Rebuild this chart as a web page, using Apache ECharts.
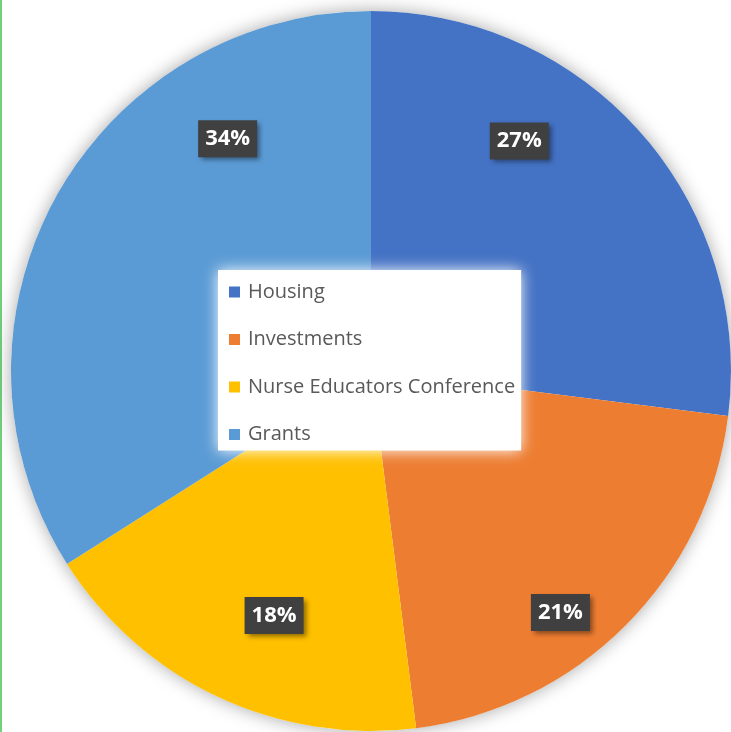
<!DOCTYPE html>
<html>
<head>
<meta charset="utf-8">
<title>Pie</title>
<script src="https://cdn.jsdelivr.net/npm/echarts@6/dist/echarts.min.js"></script>
<style>
  html, body { margin: 0; padding: 0; background: #fff; }
  #chart { width: 731px; height: 732px; }
</style>
</head>
<body>
<div id="chart"></div>
<script>
// slices, clockwise from 12 o'clock
const categories = ['Housing', 'Investments', 'Nurse Educators Conference', 'Grants'];
const shares = [27, 21, 18, 34];
const colors = ['#4472C4', '#ED7D31', '#FFC000', '#5B9BD5'];

let chartDom = document.getElementById('chart');
let myChart = echarts.init(chartDom);

// nudge the labels off the slice middles, like the original does
const labelNudge = [[11, -109], [60, 112], [-19, 79], [17, -144]];

let option = {
  animation: false,
  graphic: [{
    type: 'rect',
    shape: { x: 0, y: 0, width: 2, height: 732 },
    style: { fill: '#72d07c' },
    silent: true
  }],
  legend: {
    orient: 'vertical',
    left: 218,
    top: 270,
    itemWidth: 11,
    itemHeight: 11,
    itemGap: 27.5,
    icon: 'rect',
    backgroundColor: '#fff',
    shadowColor: 'rgba(255,255,255,1)',
    shadowBlur: 14,
    padding: [12, 6, 6, 11],
    textStyle: {
      fontFamily: 'Open Sans',
      fontSize: 20,
      color: '#595959',
      padding: [0, 0, 0, 3]
    },
    data: categories
  },
  series: [
    {
      // soft grey shadow behind the whole pie
      type: 'pie',
      silent: true,
      center: [371, 371],
      radius: 360,
      label: { show: false },
      itemStyle: {
        color: '#fff',
        shadowBlur: 18,
        shadowColor: 'rgba(0,0,0,0.35)'
      },
      data: [{ value: 1, name: '' }],
      z: 1
    },
    {
      type: 'pie',
      center: [371, 371],
      radius: 360,
      startAngle: 90,
      clockwise: true,
      color: colors,
      z: 2,
      label: {
        show: true,
        position: 'inside',
        formatter: '{d}%',
        fontFamily: 'Open Sans',
        fontWeight: 'bold',
        fontSize: 22,
        color: '#fff',
        backgroundColor: '#404040',
        padding: [8, 7, 7, 7],
        shadowColor: 'rgba(0,0,0,0.45)',
        shadowBlur: 5,
        shadowOffsetX: 3,
        shadowOffsetY: 3
      },
      labelLine: { show: false },
      emphasis: { disabled: true },
      data: categories.map(function (name, i) {
        return {
          name: name,
          value: shares[i],
          label: { offset: labelNudge[i] }
        };
      })
    }
  ]
};

myChart.setOption(option);
window.addEventListener('resize', () => {
  myChart.resize()
})
</script>
</body>
</html>
